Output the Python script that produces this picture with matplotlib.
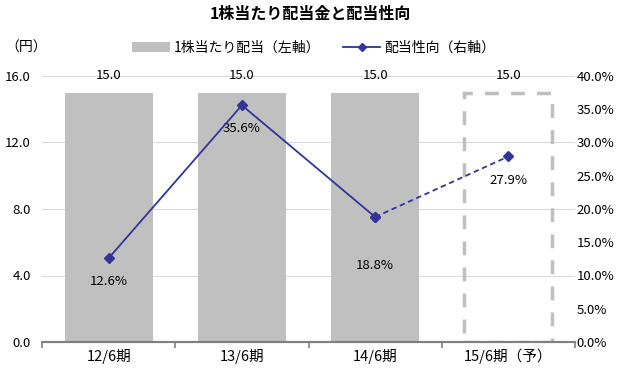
import matplotlib
matplotlib.use("Agg")
import matplotlib.pyplot as plt
from matplotlib.patches import Patch
from matplotlib.lines import Line2D

plt.rcParams['font.family'] = ['Noto Sans CJK JP', 'DejaVu Sans']

# data
periods = ['12/6期', '13/6期', '14/6期', '15/6期（予）']
dividend = [15.0, 15.0, 15.0, 15.0]
payout = [12.6, 35.6, 18.8, 27.9]
forecast = [False, False, False, True]
payout_label_offset = [-17, -17, -35, -17]  # points below the marker

bar_gray = '#c0c0c0'
navy = '#333399'

fig = plt.figure(figsize=(6.26, 3.73), dpi=100)
ax = fig.add_axes([42 / 626, 1 - 342 / 373, (575 - 42) / 626, (342 - 76) / 373])
ax2 = ax.twinx()

x = list(range(len(periods)))
for i, (v, f) in enumerate(zip(dividend, forecast)):
    if f:
        ax.bar(i, v, width=0.66, facecolor='none', edgecolor='#bfbfbf',
               linewidth=2.5, linestyle=(0, (4, 3.5)), zorder=2)
    else:
        ax.bar(i, v, width=0.66, color=bar_gray, zorder=2)
    ax.text(i, 16.0, f'{v:.1f}', ha='center', va='center', fontsize=9.5, zorder=4)

ax.set_xlim(-0.5, len(periods) - 0.5)
ax.set_ylim(0, 16)
ax.set_yticks([0, 4, 8, 12, 16])
ax.set_yticklabels([f'{t:.1f}' for t in [0, 4, 8, 12, 16]], fontsize=9.5)
ax.yaxis.grid(True, color='#d9d9d9', linewidth=0.8, zorder=0)
ax.set_axisbelow(True)
ax.tick_params(axis='y', length=0, pad=8)

ax.set_xticks([i + 0.5 for i in range(len(periods) - 1)] + [-0.5, len(periods) - 0.5])
ax.set_xticklabels([])
ax.set_xticks(x, minor=True)
ax.set_xticklabels(periods, minor=True, fontsize=10.5)
ax.tick_params(axis='x', which='major', length=4, color='#808080', width=1.2)
ax.tick_params(axis='x', which='minor', length=0, pad=5)

for a in (ax, ax2):
    for s in ('top', 'left', 'right'):
        a.spines[s].set_visible(False)
    a.spines['bottom'].set_color('#808080')
    a.spines['bottom'].set_linewidth(1.5)

# payout ratio line
ax2.plot(x[:3], payout[:3], color=navy, linewidth=1.3, marker='D',
         markersize=5, zorder=5)
ax2.plot(x[2:], payout[2:], color=navy, linewidth=1.3, linestyle=(0, (3, 2)),
         marker='D', markersize=5, zorder=5)
for i, p in enumerate(payout):
    ax2.annotate(f'{p:.1f}%', (i, p), xytext=(0, payout_label_offset[i]),
                 textcoords='offset points', ha='center', va='center', fontsize=9.5)
ax2.set_ylim(0, 40)
ax2.set_yticks(range(0, 41, 5))
ax2.set_yticklabels([f'{t:.1f}%' for t in range(0, 41, 5)], fontsize=9.5)
ax2.tick_params(axis='y', length=0, pad=1)

fig.text(310 / 626, 1 - 14 / 373, '1株当たり配当金と配当性向', ha='center', va='center',
         fontsize=11.5, fontweight='bold')
fig.text(26 / 626, 1 - 48 / 373, '（円）', ha='center', va='center', fontsize=10)

handles = [Patch(facecolor=bar_gray, edgecolor='none'),
           Line2D([0], [0], color=navy, marker='D', markersize=4, linewidth=1.3)]
fig.legend(handles, ['1株当たり配当（左軸）', '配当性向（右軸）'], loc='center',
           bbox_to_anchor=(314 / 626, 1 - 48 / 373), ncol=2, frameon=False,
           fontsize=10, handlelength=2.7, handleheight=0.7, columnspacing=1.6,
           handletextpad=0.3)

fig.savefig('out.png', dpi=100)
